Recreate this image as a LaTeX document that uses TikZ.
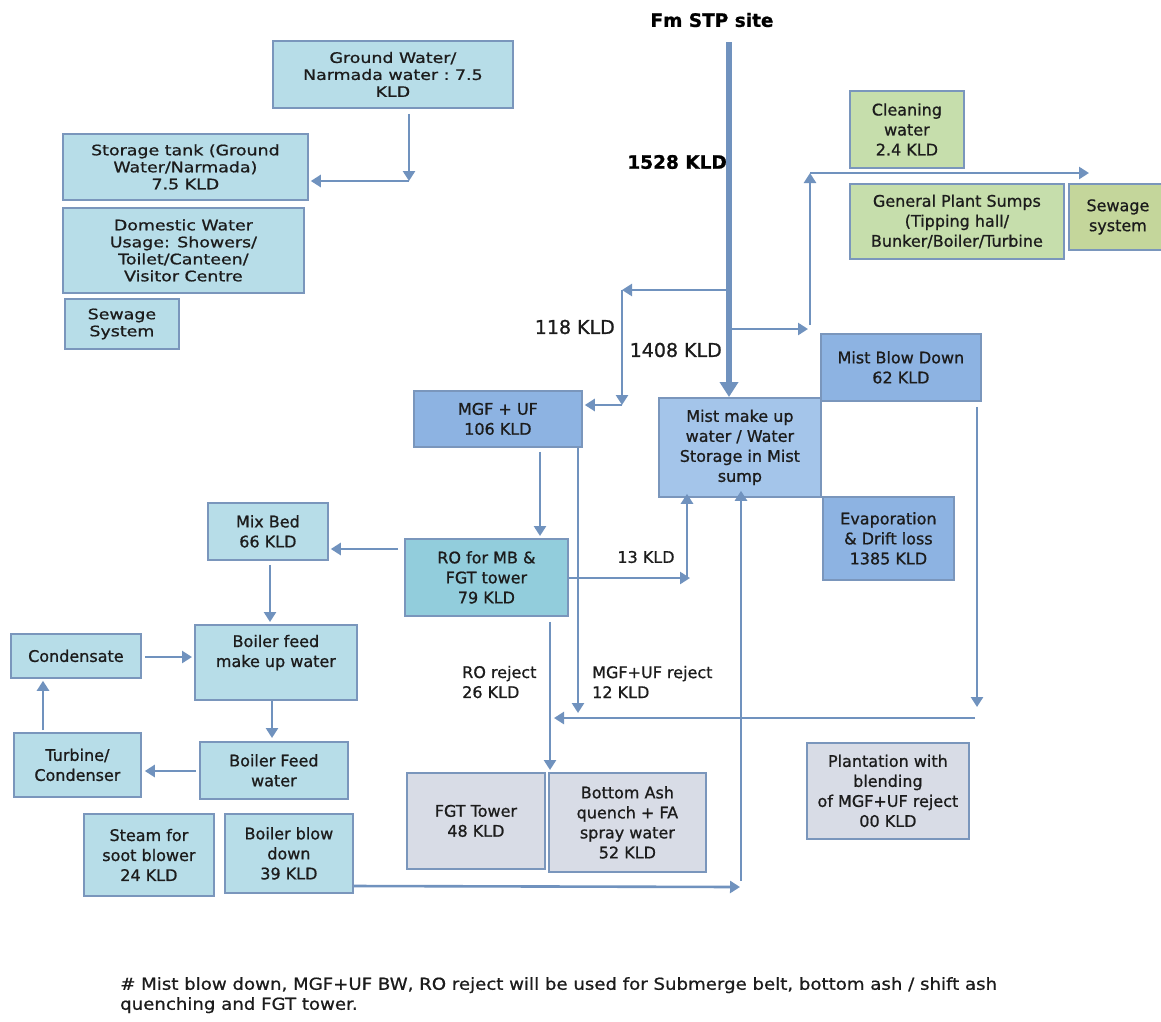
\documentclass[tikz,border=0pt]{standalone}
\usepackage{fontspec}
\setmainfont{DejaVu Sans}[FakeBold=0.9]
\newfontfamily\widefont{DejaVu Sans}[FakeStretch=1.2, FakeBold=0.9]
\newfontfamily\notefont{DejaVu Sans}[FakeStretch=1.1, FakeBold=0.8]
\usetikzlibrary{arrows.meta}

\definecolor{edgeblue}{RGB}{122,150,188}
\definecolor{flowblue}{RGB}{112,146,190}
\definecolor{paleblue}{RGB}{183,221,232}
\definecolor{tealblue}{RGB}{146,205,220}
\definecolor{midblue}{RGB}{141,179,226}
\definecolor{liteblue}{RGB}{164,197,234}
\definecolor{palegreen}{RGB}{198,222,172}
\definecolor{sagegreen}{RGB}{196,214,155}
\definecolor{palegray}{RGB}{216,220,230}
\definecolor{inkgray}{RGB}{28,28,28}

\tikzset{
  box/.style={draw=edgeblue, line width=1.8pt, anchor=north west, align=center,
    inner sep=0pt, text=inkgray, font=\fontsize{16}{20}\selectfont},
  tight/.style={font=\widefont\fontsize{14.5}{17}\selectfont},
  pale/.style={box, fill=paleblue},
  teal/.style={box, fill=tealblue},
  mid/.style={box, fill=midblue},
  lite/.style={box, fill=liteblue},
  green/.style={box, fill=palegreen},
  sage/.style={box, fill=sagegreen},
  grey/.style={box, fill=palegray},
  flow/.style={draw=flowblue, line width=2.6pt,
    -{Triangle[width=12pt,length=10pt]}},
  trunk/.style={draw=flowblue, line width=5.5pt,
    -{Triangle[width=18pt,length=15pt]}},
  tag/.style={text=inkgray, font=\fontsize{19}{22}\selectfont, inner sep=0pt},
  smalltag/.style={text=inkgray, font=\fontsize{16}{20}\selectfont, inner sep=0pt, align=left},
  headline/.style={text=black, font=\bfseries\fontsize{18.5}{22}\selectfont, inner sep=0pt},
}

\begin{document}
\begin{tikzpicture}[x=1pt, y=-1pt]
\useasboundingbox[fill=white] (0,0) rectangle (1161,1021);

% ---- boxes ----
\node[pale, tight, minimum width=240pt, minimum height=67pt] (gw) at (272,40) {Ground Water/\\Narmada\ water\ :\ 7.5\\KLD};
\node[pale, tight, minimum width=245pt, minimum height=66pt] (store) at (62,133) {Storage tank (Ground\\Water/Narmada)\\7.5 KLD};
\node[pale, tight, minimum width=241pt, minimum height=85pt] (dom) at (62,207) {Domestic Water\\Usage: Showers/\\Toilet/Canteen/\\Visitor Centre};
\node[pale, tight, minimum width=114pt, minimum height=50pt] (sewl) at (64,298) {Sewage\\System};

\node[green, minimum width=114pt, minimum height=77pt] (clean) at (849,90) {Cleaning\\water\\2.4 KLD};
\node[green, minimum width=214pt, minimum height=75pt] (sumps) at (849,183) {General Plant Sumps\\(Tipping hall/\\Bunker/Boiler/Turbine};
\node[sage, minimum width=98pt, minimum height=66pt] (sewr) at (1068,183) {Sewage\\system};
\fill[white] (1162,175) rectangle (1175,260);

\node[mid, minimum width=160pt, minimum height=67pt] (mistbd) at (820,333) {Mist Blow Down\\62 KLD};
\node[lite, minimum width=162pt, minimum height=99pt] (mistmu) at (658,397) {Mist make up\\water / Water\\Storage in Mist\\sump};
\node[mid, minimum width=131pt, minimum height=83pt] (evap) at (822,496) {Evaporation\\\& Drift loss\\1385 KLD};

\node[mid, minimum width=168pt, minimum height=56pt] (mgf) at (413,390) {MGF + UF\\106 KLD};
\node[teal, minimum width=163pt, minimum height=77pt] (ro) at (404,538) {RO for MB \&\\FGT tower\\79 KLD};

\node[pale, minimum width=120pt, minimum height=57pt] (mixbed) at (207,502) {Mix Bed\\66 KLD};
\node[pale, minimum width=162pt, minimum height=75pt] (bfmu) at (194,624) {Boiler feed\\make up water\\[-3pt]\strut};
\node[pale, minimum width=130pt, minimum height=44pt] (cond) at (10,633) {Condensate};
\node[pale, minimum width=127pt, minimum height=64pt] (turb) at (13,732) {Turbine/\\Condenser};
\node[pale, minimum width=148pt, minimum height=57pt] (bfw) at (199,741) {Boiler Feed\\water};
\node[pale, minimum width=130pt, minimum height=82pt] (soot) at (83,813) {Steam for\\soot blower\\24 KLD};
\node[pale, minimum width=128pt, minimum height=79pt] (bbd) at (224,813) {Boiler blow\\down\\39 KLD};

\node[grey, minimum width=138pt, minimum height=96pt] (fgt) at (406,772) {FGT Tower\\48 KLD};
\node[grey, minimum width=157pt, minimum height=99pt] (ash) at (548,772) {Bottom Ash\\quench + FA\\spray water\\52 KLD};
\node[grey, minimum width=162pt, minimum height=96pt] (plant) at (806,742) {Plantation with\\blending\\of MGF+UF reject\\00 KLD};

% ---- main supply trunk ----
\node[headline] (stp) at (712,20) {Fm STP site};
\coordinate (trunktop) at (729,42);
\draw[trunk] (trunktop) -- (mistmu.north -| trunktop);
\node[headline, anchor=east] (total) at (727,162) {1528 KLD};

% branch to MGF + UF
\coordinate (lbend) at (622,290);
\coordinate (lfoot) at (622,405);
\draw[flow] (trunktop |- lbend) -- (lbend);
\draw[flow] (lbend) -- (lfoot);
\draw[flow] (lfoot) -- ([xshift=2pt]mgf.east |- lfoot);
\node[tag, anchor=east] (q118) at (615,327) {118 KLD};
\node[tag, anchor=east] (q1408) at (722,350) {1408 KLD};

% branch to cleaning water and plant sumps
\coordinate (rtip) at (808,329);
\coordinate (rbase) at (810,325);
\coordinate (rtop) at (810,173);
\coordinate (rend) at (1089,173);
\draw[flow] (trunktop |- rtip) -- (rtip);
\draw[flow] (rbase) -- (rtop);
\draw[flow] (rtop) -- (rend);

% ground water to storage
\coordinate (gwbend) at (409,181);
\draw[flow] ([yshift=-5pt]gw.south -| gwbend) -- (gwbend);
\draw[flow] (gwbend) -- ([xshift=2pt]store.east |- gwbend);

% treatment chain
\draw[flow] ([yshift=-4pt]mgf.south -| 540,0) -- ([yshift=2pt]ro.north -| 540,0);
\coordinate (mgfrej) at (578,713);
\draw[flow] (mgf.south -| mgfrej) -- (mgfrej);
\coordinate (rotip) at (690,578);
\draw[flow] (ro.east |- rotip) -- (rotip);
\draw[flow] (687,578) -- ([yshift=4pt]mistmu.south -| 687,0);
\node[smalltag, anchor=center] (q13) at (646,557) {13 KLD};
\draw[flow] ([xshift=-6pt]ro.west |- 0,549) -- ([xshift=2pt]mixbed.east |- 0,549);

% reject collection
\coordinate (bdtip) at (977,707);
\draw[flow] ([yshift=-5pt]mistbd.south -| bdtip) -- (bdtip);
\coordinate (coltip) at (554,718);
\draw[flow] (975,718) -- (coltip);
\draw[flow] ([yshift=-5pt]ro.south -| 550,0) -- ([yshift=2pt]fgt.north -| 550,0);
\node[smalltag, anchor=west] (rorej) at (462,682) {RO reject\\26 KLD};
\node[smalltag, anchor=west] (mgfr) at (592,682) {MGF+UF reject\\12 KLD};

% boiler blow down return to mist sump
\coordinate (bbdtip) at (740,887);
\draw[flow] (bbd.east |- 0,886) -- (bbdtip);
\draw[flow] (741,881) -- ([yshift=7pt]mistmu.south -| 741,0);

% boiler water loop
\draw[flow] ([yshift=-4pt]mixbed.south -| 270,0) -- ([yshift=2pt]bfmu.north -| 270,0);
\draw[flow] ([xshift=3pt]cond.east |- 0,657) -- ([xshift=-2pt]bfmu.west |- 0,657);
\draw[flow] (bfmu.south -| 272,0) -- ([yshift=3pt]bfw.north -| 272,0);
\draw[flow] ([xshift=-3pt]bfw.west |- 0,771) -- ([xshift=3pt]turb.east |- 0,771);
\draw[flow] ([yshift=2pt]turb.north -| 43,0) -- ([yshift=-2pt]cond.south -| 43,0);

% note
\node[anchor=north west, inner sep=0pt, align=left, text=inkgray,
  font=\notefont\fontsize{16.5}{20}\selectfont] (note) at (120,977)
  {\# Mist blow down, MGF+UF BW, RO reject will be used for Submerge belt, bottom ash / shift ash\\quenching and FGT tower.};
\end{tikzpicture}
\end{document}
